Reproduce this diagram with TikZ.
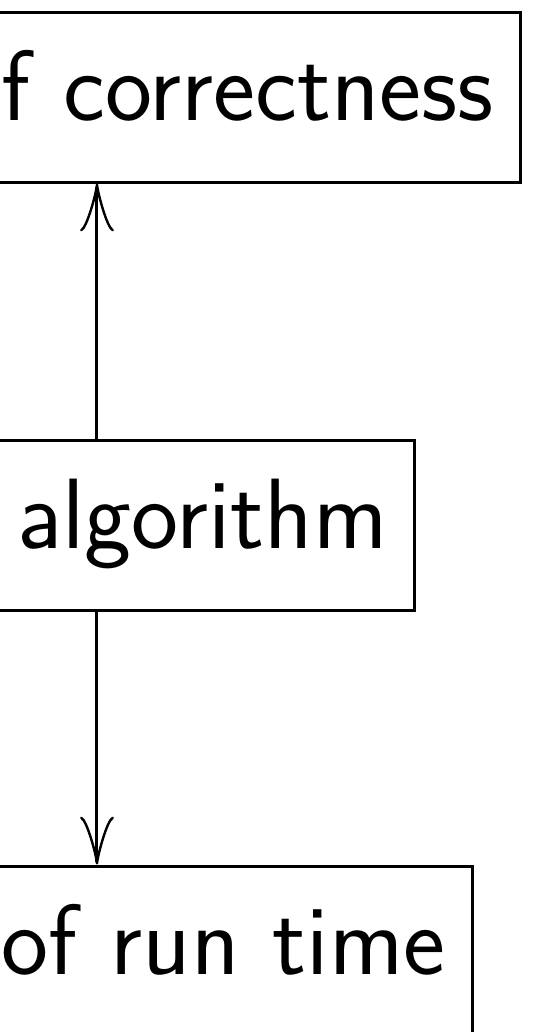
\documentclass[tikz,border=0pt]{standalone}
\usepackage{fontspec}
\usetikzlibrary{arrows.meta}

\begin{document}
\begin{tikzpicture}[x=0.25pt,y=-0.25pt,
   stage/.style={draw, line width=0.75pt, font=\sffamily\fontsize{25}{30}\selectfont,
      text width=180pt, align=right, inner xsep=6.75pt, inner ysep=7.5pt,
      text height=19.5pt, text depth=8pt, anchor=base east},
   flow/.style={line width=0.75pt, -{Classical TikZ Rightarrow[length=12pt,width=8.5pt]}}]

   \clip (0,0) rectangle (535,1032);

   \node[stage] (proof)   at (522,120) {f correctness};
   \node[stage] (algo)    at (416,548) {algorithm};
   \node[stage] (runtime) at (474,974) {of run time};

   \coordinate (axis) at (97,0);

   \draw[flow] (algo.north -| axis) -- (proof.south -| axis);
   \draw[flow] (algo.south -| axis) -- (runtime.north -| axis);

\end{tikzpicture}
\end{document}
